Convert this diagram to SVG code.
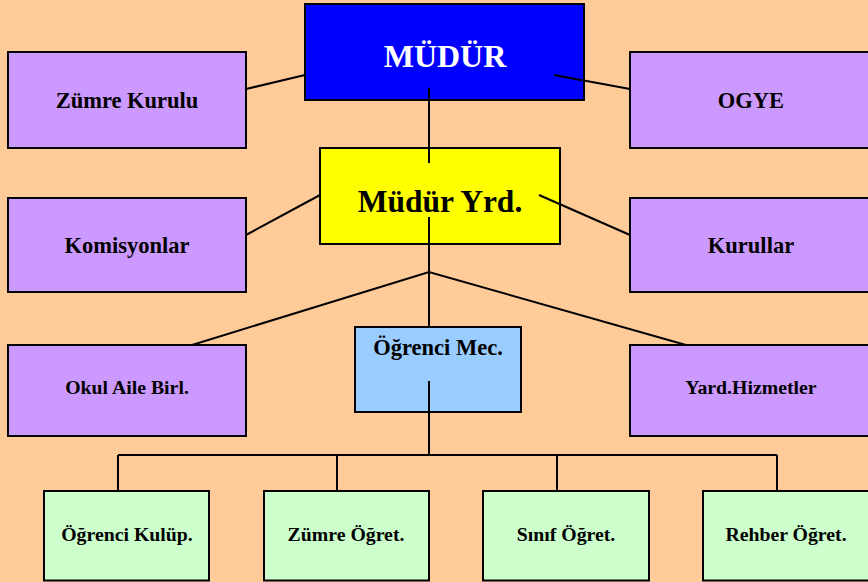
<svg xmlns="http://www.w3.org/2000/svg" width="868" height="582" viewBox="0 0 868 582">
<style>
.box{stroke:#000;stroke-width:2}
.p{fill:#CC99FF}
.g{fill:#CCFFCC}
text{font-family:"Liberation Serif","Times New Roman",serif;font-weight:bold;text-anchor:middle;fill:#000}
.t22{font-size:22.5px}
.t20{font-size:19.8px}
.big{font-size:32px}
.conn line,.conn polyline{stroke:#000;stroke-width:2;fill:none}
</style>
<rect width="868" height="582" fill="#FFCC99"/>
<g id="mudur"><rect class="box" x="305" y="4" width="279" height="96" fill="#0000FF"/><text class="big" x="445" y="67" style="fill:#fff">MÜDÜR</text></g>
<g id="mudur-yrd"><rect class="box" x="320" y="148" width="240" height="96" fill="#FFFF00"/><text class="big" x="440" y="212" style="font-size:31.5px">Müdür Yrd.</text></g>
<g id="zumre-kurulu"><rect class="box p" x="8" y="52" width="238" height="96"/><text class="t22" x="127" y="108">Zümre Kurulu</text></g>
<g id="ogye"><rect class="box p" x="630" y="52" width="240" height="96"/><text class="t22" x="751" y="108">OGYE</text></g>
<g id="komisyonlar"><rect class="box p" x="8" y="198" width="238" height="94"/><text class="t22" x="127" y="253">Komisyonlar</text></g>
<g id="kurullar"><rect class="box p" x="630" y="198" width="240" height="94"/><text class="t22" x="751" y="253">Kurullar</text></g>
<g id="okul-aile"><rect class="box p" x="8" y="345" width="238" height="91"/><text class="t20" x="127" y="394">Okul Aile Birl.</text></g>
<g id="yard-hizmetler"><rect class="box p" x="630" y="345" width="240" height="91"/><text class="t20" x="751" y="394">Yard.Hizmetler</text></g>
<g id="ogrenci-mec"><rect class="box" x="355" y="327" width="166" height="85" fill="#99CCFF"/><text class="t22" x="438" y="355">Öğrenci Mec.</text></g>
<g id="ogrenci-kulup"><rect class="box g" x="44" y="491" width="165" height="89.5"/><text class="t20" x="127" y="541">Öğrenci Kulüp.</text></g>
<g id="zumre-ogret"><rect class="box g" x="264" y="491" width="165" height="89.5"/><text class="t20" x="346" y="541">Zümre Öğret.</text></g>
<g id="sinif-ogret"><rect class="box g" x="483" y="491" width="166" height="89.5"/><text class="t20" x="566" y="541">Sınıf Öğret.</text></g>
<g id="rehber-ogret"><rect class="box g" x="703" y="491" width="167" height="89.5"/><text class="t20" x="786" y="541">Rehber Öğret.</text></g>
<g id="connectors" class="conn">
<line x1="246" y1="89" x2="305" y2="75"/>
<line x1="554" y1="75" x2="630" y2="89"/>
<line x1="429" y1="88" x2="429" y2="163"/>
<line x1="246" y1="235" x2="320" y2="195"/>
<line x1="539" y1="195" x2="630" y2="235"/>
<line x1="429" y1="217" x2="429" y2="327"/>
<polyline points="192,345 429,272 686,345"/>
<line x1="429" y1="381" x2="429" y2="455"/>
<line x1="118" y1="455" x2="777" y2="455"/>
<line x1="118" y1="455" x2="118" y2="491"/>
<line x1="337" y1="455" x2="337" y2="491"/>
<line x1="557" y1="455" x2="557" y2="491"/>
<line x1="777" y1="455" x2="777" y2="491"/>
</g>
</svg>
